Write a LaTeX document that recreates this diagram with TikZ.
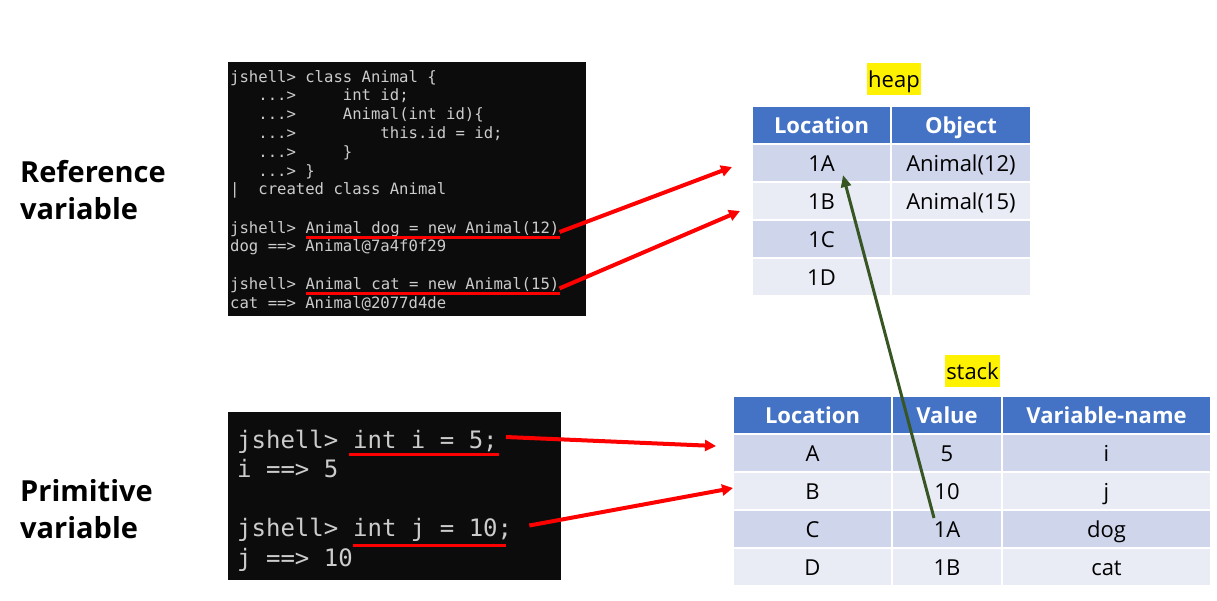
\documentclass[tikz,border=0pt]{standalone}
\usepackage{fontspec}
\setmainfont{Open Sans}
\newfontfamily\termfont{DejaVu Sans Mono}
\usetikzlibrary{arrows.meta,positioning}
\definecolor{hdrblue}{HTML}{4472C4}
\definecolor{rowdark}{HTML}{CFD5EA}
\definecolor{rowlight}{HTML}{E9EBF5}
\definecolor{termbg}{HTML}{0C0C0C}
\definecolor{termtxt}{HTML}{CCCCCC}
\definecolor{refgreen}{HTML}{375623}
\tikzset{
  cell/.style={draw=white, line width=2pt, inner sep=0pt, outer sep=0pt, minimum height=38pt, text height=20pt, text depth=3pt, font=\fontsize{22}{26}\selectfont},
  hdr/.style={cell, fill=hdrblue, text=white, font=\fontsize{22}{26}\selectfont\bfseries},
  rowa/.style={cell, fill=rowdark},
  rowb/.style={cell, fill=rowlight},
  tag/.style={fill=yellow, inner xsep=1pt, inner ysep=0pt, minimum height=32pt, text height=20pt, text depth=3pt, font=\fontsize{22}{26}\selectfont},
  termbox/.style={fill=termbg, anchor=north west, inner sep=0pt},
  sline/.style={anchor=base west, inner sep=0pt, text=termtxt, font=\termfont\fontsize{15.6}{18}\selectfont},
  bline/.style={anchor=base west, inner sep=0pt, text=termtxt, font=\termfont\fontsize{24}{29}\selectfont},
  uline/.style={red, line width=3pt},
  ptr/.style={red, line width=4pt, -{Triangle[length=11pt,width=11pt]}},
  refptr/.style={refgreen, line width=3pt, -{Triangle[length=12pt,width=10pt]}},
  side/.style={anchor=north west, inner sep=0pt, align=left, font=\fontsize{29}{37}\selectfont\bfseries}
}
\begin{document}
\begin{tikzpicture}[x=1pt,y=-1pt]
\useasboundingbox (0,0) rectangle (1217,600);

\node[side] (reflbl) at (20,160) {Reference\\variable};
\node[side] (primlbl) at (20,479) {Primitive\\variable};

\node[termbox, minimum width=358pt, minimum height=254pt] (topterm) at (228,62) {};
\node[sline] (t1) at (230,82) {jshell> class Animal \{};
\node[sline] (t2) at (230,100.8) {~~~...>~~~~~int id;};
\node[sline] (t3) at (230,119.6) {~~~...>~~~~~Animal(int id)\{};
\node[sline] (t4) at (230,138.4) {~~~...>~~~~~~~~~this.id = id;};
\node[sline] (t5) at (230,157.2) {~~~...>~~~~~\}};
\node[sline] (t6) at (230,176) {~~~...> \}};
\node[sline] (t7) at (230,194.8) {|~~created class Animal};
\node[sline] (dogp) at (230,233) {jshell>\phantom{j}};
\node[sline] (dogcmd) at (dogp.base east) {Animal dog = new Animal(12)};
\node[sline] (t10) at (230,251.8) {dog ==> Animal@7a4f0f29};
\node[sline] (catp) at (230,289.4) {jshell>\phantom{j}};
\node[sline] (catcmd) at (catp.base east) {Animal cat = new Animal(15)};
\node[sline] (t13) at (230,308.2) {cat ==> Animal@2077d4de};

\node[termbox, minimum width=333pt, minimum height=168pt] (botterm) at (228,412) {};
\node[bline] (ip) at (237,448) {jshell>\phantom{j}};
\node[bline] (icmd) at (ip.base east) {int i = 5;};
\node[bline] (b2) at (237,477.5) {i ==> 5};
\node[bline] (jp) at (237,536.5) {jshell>\phantom{j}};
\node[bline] (jcmd) at (jp.base east) {int j = 10;};
\node[bline] (b5) at (237,566) {j ==> 10};

\node[tag] (heaplbl) at (894,79) {heap};
\node[hdr, minimum width=139pt] (hloc) at (821.5,125) {Location};
\node[hdr, minimum width=140pt] (hobj) at (961,125) {Object};
\node[rowa, minimum width=139pt] (h1a) at (821.5,163) {1A};
\node[rowa, minimum width=140pt] (h1ao) at (961,163) {Animal(12)};
\node[rowb, minimum width=139pt] (h1b) at (821.5,201) {1B};
\node[rowb, minimum width=140pt] (h1bo) at (961,201) {Animal(15)};
\node[rowa, minimum width=139pt] (h1c) at (821.5,239) {1C};
\node[rowa, minimum width=140pt] (h1co) at (961,239) {};
\node[rowb, minimum width=139pt] (h1d) at (821.5,277) {1D};
\node[rowb, minimum width=140pt] (h1do) at (961,277) {};

\node[tag] (stacklbl) at (972.5,371) {stack};
\node[hdr, minimum width=159pt] (sloc) at (812.5,415) {Location};
\node[hdr, minimum width=110pt] (sval) at (947,415) {Value};
\node[hdr, minimum width=209pt] (sname) at (1106.5,415) {Variable-name};
\node[rowa, minimum width=159pt] (sA) at (812.5,453) {A};
\node[rowa, minimum width=110pt] (sAv) at (947,453) {5};
\node[rowa, minimum width=209pt] (sAn) at (1106.5,453) {i};
\node[rowb, minimum width=159pt] (sB) at (812.5,491) {B};
\node[rowb, minimum width=110pt] (sBv) at (947,491) {10};
\node[rowb, minimum width=209pt] (sBn) at (1106.5,491) {j};
\node[rowa, minimum width=159pt] (sC) at (812.5,529) {C};
\node[rowa, minimum width=110pt] (sCv) at (947,529) {1A};
\node[rowa, minimum width=209pt] (sCn) at (1106.5,529) {dog};
\node[rowb, minimum width=159pt] (sD) at (812.5,567) {D};
\node[rowb, minimum width=110pt] (sDv) at (947,567) {1B};
\node[rowb, minimum width=209pt] (sDn) at (1106.5,567) {cat};

\coordinate (dogend) at ([xshift=-20pt,yshift=-4pt]h1a.west);
\coordinate (catend) at ([xshift=-12pt,yshift=-10pt]h1b.west);
\coordinate (iend) at ([xshift=-17pt,yshift=7pt]sA.west);
\coordinate (jend) at ([yshift=3pt]sB.west);
\coordinate (ptrfrom) at ([xshift=-13pt,yshift=11pt]sCv.center);
\coordinate (ptrto) at ([xshift=21.5pt,yshift=-12pt]h1a.center);

\draw[uline] ([yshift=-4pt]dogcmd.base west) -- ([yshift=-4pt]dogcmd.base east);
\draw[uline] ([yshift=-4pt]catcmd.base west) -- ([yshift=-4pt]catcmd.base east);
\draw[uline] ([xshift=-4pt,yshift=-6pt]icmd.base west) -- ([xshift=1pt,yshift=-6pt]icmd.base east);
\draw[uline] ([yshift=-9pt]jcmd.base west) -- ([xshift=-6pt,yshift=-9pt]jcmd.base east);

\draw[ptr] ([yshift=1pt]dogcmd.base east) -- (dogend);
\draw[ptr] ([yshift=1pt]catcmd.base east) -- (catend);
\draw[ptr] ([xshift=8pt,yshift=11pt]icmd.base east) -- (iend);
\draw[ptr] ([xshift=17pt,yshift=11pt]jcmd.base east) -- (jend);
\draw[refptr] (ptrfrom) -- (ptrto);
\end{tikzpicture}
\end{document}
